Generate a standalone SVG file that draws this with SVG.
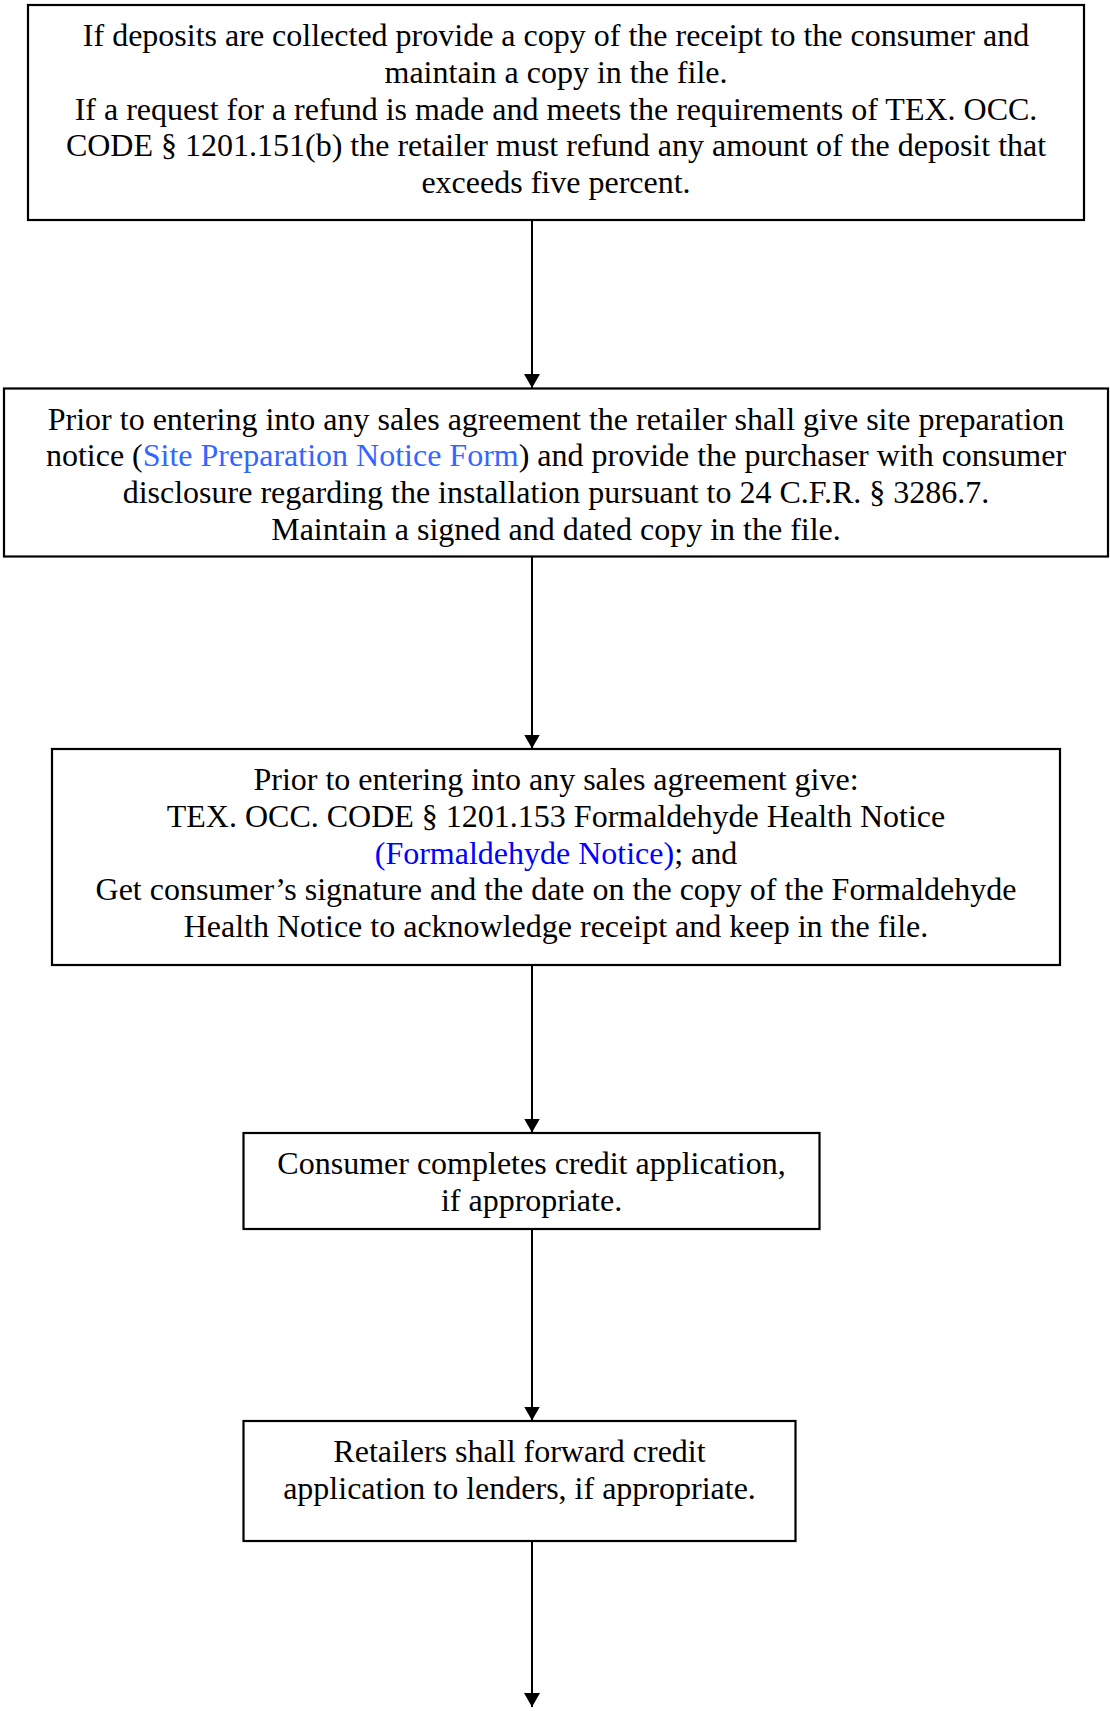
<svg xmlns="http://www.w3.org/2000/svg" width="1110" height="1711" viewBox="0 0 1110 1711">
  <style>
    .box { fill: #ffffff; stroke: #000000; stroke-width: 2.2; }
    .txt { font-family: "Liberation Serif", "Times New Roman", serif; font-size: 32px; fill: #000000; text-anchor: middle; }
    .link1 { fill: #3366ff; }
    .link2 { fill: #0000ff; }
    .conn { stroke: #000000; stroke-width: 2; fill: none; }
  </style>
  <defs>
    <marker id="arrow" viewBox="0 0 14 16" refX="14" refY="8" markerWidth="14" markerHeight="16" markerUnits="userSpaceOnUse" orient="auto">
      <path d="M0,0 L14,8 L0,16 Z" fill="#000000"/>
    </marker>
  </defs>
  <rect width="1110" height="1711" fill="#ffffff"/>

  <g id="connectors">
    <line class="conn" x1="532" y1="220" x2="532" y2="388" marker-end="url(#arrow)"/>
    <line class="conn" x1="532" y1="557" x2="532" y2="748.5" marker-end="url(#arrow)"/>
    <line class="conn" x1="532" y1="965" x2="532" y2="1132.5" marker-end="url(#arrow)"/>
    <line class="conn" x1="532" y1="1229" x2="532" y2="1420.5" marker-end="url(#arrow)"/>
    <line class="conn" x1="532" y1="1541" x2="532" y2="1707" marker-end="url(#arrow)"/>
  </g>

  <g id="deposits">
    <rect class="box" x="28" y="5" width="1056" height="215"/>
    <text class="txt" x="556" y="46">If deposits are collected provide a copy of the receipt to the consumer and</text>
    <text class="txt" x="556" y="82.8">maintain a copy in the file.</text>
    <text class="txt" x="556" y="119.6">If a request for a refund is made and meets the requirements of TEX. OCC.</text>
    <text class="txt" x="556" y="156.4">CODE § 1201.151(b) the retailer must refund any amount of the deposit that</text>
    <text class="txt" x="556" y="193.2">exceeds five percent.</text>
  </g>

  <g id="site-preparation">
    <rect class="box" x="4" y="388.5" width="1104" height="168"/>
    <text class="txt" x="556" y="429.5">Prior to entering into any sales agreement the retailer shall give site preparation</text>
    <text class="txt" x="556" y="466.3">notice (<tspan class="link1">Site Preparation Notice Form</tspan>) and provide the purchaser with consumer</text>
    <text class="txt" x="556" y="503.1">disclosure regarding the installation pursuant to 24 C.F.R. § 3286.7.</text>
    <text class="txt" x="556" y="539.9">Maintain a signed and dated copy in the file.</text>
  </g>

  <g id="formaldehyde">
    <rect class="box" x="52" y="749" width="1008" height="216"/>
    <text class="txt" x="556" y="790">Prior to entering into any sales agreement give:</text>
    <text class="txt" x="556" y="826.8">TEX. OCC. CODE § 1201.153 Formaldehyde Health Notice</text>
    <text class="txt" x="556" y="863.6"><tspan class="link2">(Formaldehyde Notice)</tspan>; and</text>
    <text class="txt" x="556" y="900.4">Get consumer’s signature and the date on the copy of the Formaldehyde</text>
    <text class="txt" x="556" y="937.2">Health Notice to acknowledge receipt and keep in the file.</text>
  </g>

  <g id="credit-application">
    <rect class="box" x="243.5" y="1133" width="576" height="96"/>
    <text class="txt" x="531.5" y="1174">Consumer completes credit application,</text>
    <text class="txt" x="531.5" y="1210.8">if appropriate.</text>
  </g>

  <g id="forward-to-lenders">
    <rect class="box" x="243.5" y="1421" width="552" height="120"/>
    <text class="txt" x="519.5" y="1462">Retailers shall forward credit</text>
    <text class="txt" x="519.5" y="1498.8">application to lenders, if appropriate.</text>
  </g>
</svg>
